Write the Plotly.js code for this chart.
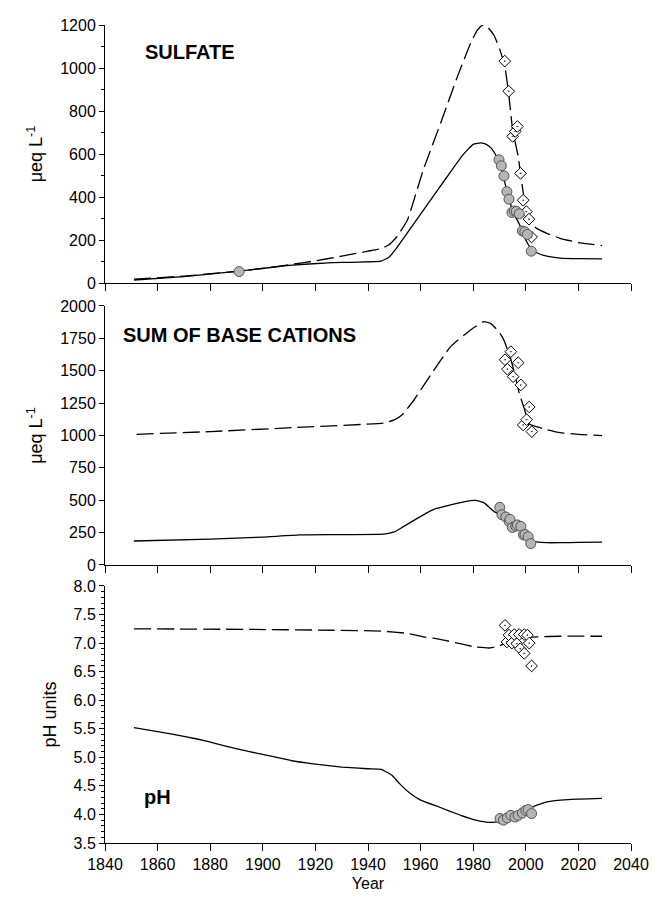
<!DOCTYPE html>
<html>
<head>
<meta charset="utf-8">
<script src="https://cdn.plot.ly/plotly-3.0.1.min.js"></script>
<style>
  html, body { margin: 0; padding: 0; background: #fff; }
  #chart { width: 653px; height: 898px; }
</style>
</head>
<body>
<div id="chart"></div>
<script>
// ---- Sulfate (µeq/L): modelled stream (solid) and soil solution (dashed), with observations
const so4ModelYears   = [1851, 1870, 1891, 1910, 1925, 1945, 1948, 1951, 1960, 1970, 1976, 1980, 1983, 1985, 1987, 1989, 1991, 1993, 1995, 1998, 2000, 2002, 2004, 2008, 2013, 2020, 2029];
const so4ModelStream  = [14, 30, 55, 82, 94, 102, 120, 165, 320, 493, 595, 645, 652, 645, 625, 585, 515, 420, 335, 262, 200, 160, 142, 125, 116, 113, 112];
const so4SoilYears    = [1851, 1870, 1891, 1900, 1910, 1920, 1930, 1940, 1945, 1948, 1951, 1955, 1961, 1967.6, 1974, 1979, 1981.5, 1983.5, 1985.5, 1988, 1990, 1992, 1993.5, 1995, 1997, 1998, 1999.4, 2000.6, 2002, 2004, 2008, 2013, 2020, 2029];
const so4ModelSoil    = [18, 32, 55, 68, 85, 103, 125, 148, 160, 178, 215, 293, 526, 743, 960, 1115, 1175, 1200, 1190, 1150, 1090, 1010, 880, 712, 595, 510, 386, 308, 275, 255, 231, 208, 188, 174];
const so4StreamObsYears = [1891, 1989.8, 1990.7, 1991.7, 1992.8, 1993.6, 1994.7, 1995.6, 1996.4, 1997.5, 1998.7, 1999.6, 2000.6, 2002.1];
const so4StreamObs      = [53, 573, 545, 498, 425, 390, 328, 335, 333, 322, 242, 238, 226, 148];
const so4SoilObsYears = [1992, 1993.5, 1995, 1996, 1996.8, 1998, 1999, 2000.2, 2001.2, 2002.2];
const so4SoilObs      = [1032, 892, 682, 705, 728, 510, 385, 332, 297, 214];

// ---- Sum of base cations (µeq/L)
const bcModelStreamYears = [1851, 1880, 1900, 1914, 1946, 1950, 1953, 1958.7, 1965, 1971, 1979, 1981, 1984, 1988, 1990, 1993, 1996, 1998, 2000, 2002, 2004, 2008, 2013, 2020, 2029];
const bcModelStream      = [185, 200, 215, 232, 238, 255, 290, 360, 430, 463, 497, 498, 481, 412, 390, 345, 310, 280, 225, 185, 178, 172, 172, 174, 176];
const bcModelSoilYears = [1852, 1880, 1911, 1946, 1950, 1953, 1957.5, 1963.8, 1971.4, 1979, 1984, 1986.6, 1989.2, 1991, 1992, 1994, 1996, 1997.5, 1999.4, 2001.3, 2004, 2008, 2013, 2020, 2029];
const bcModelSoil      = [1009, 1030, 1060, 1096, 1120, 1160, 1274, 1467, 1686, 1815, 1879, 1866, 1815, 1763, 1720, 1610, 1460, 1326, 1210, 1090, 1068, 1045, 1022, 1008, 999];
const bcStreamObsYears = [1990.1, 1990.9, 1992.4, 1993.7, 1994, 1994.9, 1996.2, 1996.8, 1998.1, 1999.1, 1999.7, 2000.9, 2001.9];
const bcStreamObs      = [445, 388, 370, 335, 352, 290, 300, 309, 298, 232, 235, 218, 165];
const bcSoilObsYears = [1992.1, 1993, 1994.3, 1995.2, 1997.1, 1998.1, 1999, 2000.3, 2001.3, 2002.3];
const bcSoilObs      = [1585, 1512, 1647, 1454, 1562, 1390, 1081, 1122, 1220, 1030];

// ---- pH (pH units)
const phModelStreamYears = [1851, 1860, 1871, 1879, 1889, 1900, 1911, 1920, 1930, 1940, 1945, 1949, 1952, 1956, 1960, 1967, 1975, 1981, 1986, 1989, 1992, 1995, 1998, 2001, 2003, 2008, 2016, 2029];
const phModelStream      = [5.52, 5.45, 5.36, 5.28, 5.16, 5.05, 4.94, 4.88, 4.83, 4.80, 4.79, 4.69, 4.54, 4.37, 4.25, 4.13, 3.99, 3.90, 3.86, 3.87, 3.90, 3.95, 4.01, 4.08, 4.14, 4.22, 4.26, 4.28];
const phModelSoilYears = [1851, 1895, 1927, 1945, 1955, 1961, 1967, 1975, 1981, 1986.5, 1990, 1993, 1997, 2001, 2004.4, 2013, 2029];
const phModelSoil      = [7.25, 7.24, 7.225, 7.21, 7.17, 7.11, 7.07, 6.99, 6.93, 6.915, 6.95, 7.03, 7.08, 7.10, 7.11, 7.12, 7.12];
const phStreamObsYears = [1990.2, 1991.5, 1993, 1994.3, 1995.9, 1997.1, 1998.7, 2000, 2000.9, 2002.2];
const phStreamObs      = [3.93, 3.90, 3.94, 3.985, 3.955, 3.985, 4.025, 4.07, 4.085, 4.015];
const phSoilObsYears = [1992.1, 1992.8, 1993.6, 1994.7, 1995.6, 1996.6, 1997.5, 1997.9, 1999.4, 1999.4, 2000.6, 2001.3, 2002.2];
const phSoilObs      = [7.31, 7.02, 7.14, 7.00, 7.15, 6.99, 7.15, 6.90, 7.15, 6.82, 7.14, 7.00, 6.60];

const yearTicks = [1840, 1860, 1880, 1900, 1920, 1940, 1960, 1980, 2000, 2020, 2040];

const FONT = 'Liberation Sans, Arial, sans-serif';
const solidLine  = {color: '#000', width: 1.3, shape: 'spline', smoothing: 0.35};
const dashedLine = {color: '#000', width: 1.3, shape: 'spline', smoothing: 0.35, dash: '17px,6px'};
const circleMarker = {symbol: 'circle', size: 10, color: '#b5b5b5', line: {color: '#555', width: 1}};
const diamondMarker = {symbol: 'diamond-dot', size: 9, color: '#fff', line: {color: '#000', width: 1}};

function line(x, y, style, xa, ya) {
  return {x, y, mode: 'lines', line: style, xaxis: xa, yaxis: ya, hoverinfo: 'skip', showlegend: false};
}
function points(x, y, marker, xa, ya) {
  return {x, y, mode: 'markers', marker, xaxis: xa, yaxis: ya, showlegend: false};
}

const traces = [
  line(so4SoilYears, so4ModelSoil, dashedLine, 'x', 'y'),
  line(so4ModelYears, so4ModelStream, solidLine, 'x', 'y'),
  points(so4SoilObsYears, so4SoilObs, diamondMarker, 'x', 'y'),
  points(so4StreamObsYears, so4StreamObs, circleMarker, 'x', 'y'),

  line(bcModelSoilYears, bcModelSoil, dashedLine, 'x2', 'y2'),
  line(bcModelStreamYears, bcModelStream, solidLine, 'x2', 'y2'),
  points(bcSoilObsYears, bcSoilObs, diamondMarker, 'x2', 'y2'),
  points(bcStreamObsYears, bcStreamObs, circleMarker, 'x2', 'y2'),

  line(phModelSoilYears, phModelSoil, dashedLine, 'x3', 'y3'),
  line(phModelStreamYears, phModelStream, solidLine, 'x3', 'y3'),
  points(phSoilObsYears, phSoilObs, diamondMarker, 'x3', 'y3'),
  points(phStreamObsYears, phStreamObs, circleMarker, 'x3', 'y3')
];

const tickFont = {family: FONT, size: 16, color: '#000'};
const titleFont = {family: FONT, size: 18, color: '#000'};

function xAxis(anchor, labels) {
  return {
    anchor, domain: [0, 1], range: [1840, 2040], tickvals: yearTicks,
    ticks: 'outside', ticklen: 7, tickwidth: 1, tickcolor: '#000',
    showline: true, linecolor: '#000', linewidth: 1,
    showgrid: false, zeroline: false, showticklabels: labels,
    tickfont: tickFont, fixedrange: true
  };
}
function leftAxis(anchor, domain, range, dtick, minor, title, extra) {
  return Object.assign({
    anchor, domain, range, dtick,
    ticks: 'outside', ticklen: 5, tickwidth: 1, tickcolor: '#000',
    minor: minor ? {dtick: minor, ticks: 'outside', ticklen: 3, tickcolor: '#000', showgrid: false} : undefined,
    showline: true, linecolor: '#000', linewidth: 1,
    showgrid: false, zeroline: false, tickfont: tickFont,
    title: {text: title, font: titleFont, standoff: 12},
    fixedrange: true
  }, extra || {});
}
function rightAxis(over, anchor, range, dtick, minor) {
  return {
    overlaying: over, anchor, side: 'right', range, dtick,
    ticks: 'inside', ticklen: 5, tickwidth: 1, tickcolor: '#000',
    minor: minor ? {dtick: minor, ticks: 'inside', ticklen: 3, tickcolor: '#000', showgrid: false} : undefined,
    showline: true, linecolor: '#000', linewidth: 1,
    showgrid: false, zeroline: false, showticklabels: false, fixedrange: true
  };
}

const panelTop = [0.6846, 1];
const panelMid = [0.3399, 0.6565];
const panelBot = [0, 0.3142];

const layout = {
  width: 653, height: 898,
  margin: {l: 105, r: 22, t: 25, b: 55},
  paper_bgcolor: '#fff', plot_bgcolor: 'rgba(0,0,0,0)',
  font: {family: FONT, color: '#000'},
  showlegend: false,
  xaxis: xAxis('y', false),
  xaxis2: xAxis('y2', false),
  xaxis3: Object.assign(xAxis('y3', true), {title: {text: 'Year', font: {family: FONT, size: 16, color: '#000'}, standoff: 5}}),
  yaxis: leftAxis('x', panelTop, [0, 1200], 200, 100, 'μeq L<sup>-1</sup>'),
  yaxis2: leftAxis('x2', panelMid, [0, 2000], 250, null, 'μeq L<sup>-1</sup>'),
  yaxis3: leftAxis('x3', panelBot, [3.5, 8], 0.5, 0.1, 'pH units', {tickformat: '.1f'}),
  yaxis4: rightAxis('y', 'x', [0, 1200], 200, 100),
  yaxis5: rightAxis('y2', 'x2', [0, 2000], 250, null),
  yaxis6: rightAxis('y3', 'x3', [3.5, 8], 0.5, 0.1),
  annotations: [
    {text: '<b>SULFATE</b>', xref: 'x', yref: 'y', x: 1854.5, y: 1074, xanchor: 'left', yanchor: 'middle', showarrow: false, font: {family: FONT, size: 20, color: '#000'}},
    {text: '<b>SUM OF BASE CATIONS</b>', xref: 'x2', yref: 'y2', x: 1846, y: 1776, xanchor: 'left', yanchor: 'middle', showarrow: false, font: {family: FONT, size: 20, color: '#000'}},
    {text: '<b>pH</b>', xref: 'x3', yref: 'y3', x: 1854, y: 4.3, xanchor: 'left', yanchor: 'middle', showarrow: false, font: {family: FONT, size: 20, color: '#000'}}
  ]
};

Plotly.newPlot('chart', traces, layout, {staticPlot: true, displayModeBar: false});
</script>
</body>
</html>
